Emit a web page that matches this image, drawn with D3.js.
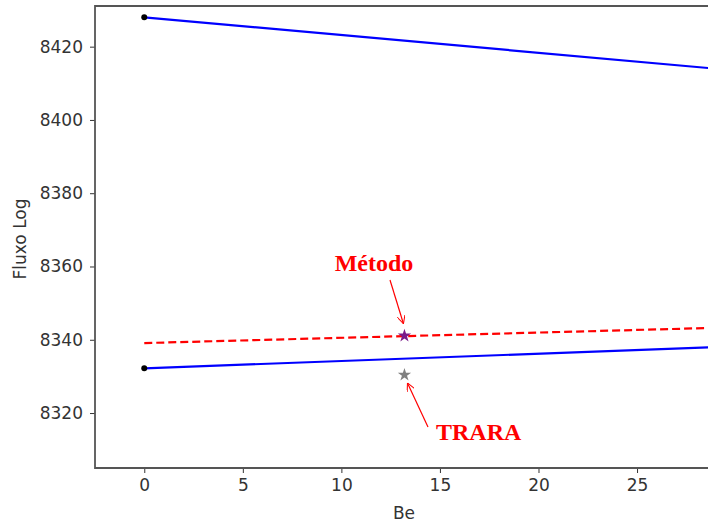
<!DOCTYPE html>
<html><head><meta charset="utf-8">
<script src="https://cdn.jsdelivr.net/npm/d3@7"></script>
<style>body{margin:0;background:#fff}svg{display:block}</style>
</head><body><svg id="c" width="708" height="522"></svg>
<script>
const xTicks = [0, 5, 10, 15, 20, 25];
const yTicks = [8320, 8340, 8360, 8380, 8400, 8420];
const beValues = [0, 30];
const upperLine = [8428.0, 8413.5];
const lowerLine = [8332.2, 8338.2];
const redDashed = [8339.1, 8343.4];
const metodoPoint = [13.2, 8341.1];
const traraPoint = [13.2, 8330.4];

const svg = d3.select("#c");
const L = 95, T = 6, R = 708, B = 468;
const x = d3.scaleLinear().domain([-2.5, 28.6]).range([L, R]);
const y = d3.scaleLinear().domain([8305.0, 8431.1]).range([B, T]);

svg.append("defs").append("clipPath").attr("id","clip")
  .append("rect").attr("x",L).attr("y",T).attr("width",R-L).attr("height",B-T);

const g = svg.append("g").attr("clip-path","url(#clip)");
const line = d3.line().x(d=>x(d[0])).y(d=>y(d[1]));
const mk = arr => beValues.map((b,i)=>[b,arr[i]]);

g.append("path").attr("d",line(mk(upperLine))).attr("fill","none").attr("stroke","#0000ff").attr("stroke-width",2.2);
g.append("path").attr("d",line(mk(lowerLine))).attr("fill","none").attr("stroke","#0000ff").attr("stroke-width",2.2);
g.append("path").attr("d",line(mk(redDashed))).attr("fill","none").attr("stroke","#ff0000").attr("stroke-width",2.2).attr("stroke-dasharray","8,4");

[[beValues[0],upperLine[0]],[beValues[0],lowerLine[0]]].forEach(p=>{
  g.append("circle").attr("cx",x(p[0])).attr("cy",y(p[1])).attr("r",3).attr("fill","#000");
});

const star = d3.symbol().type(d3.symbolStar).size(55);
g.append("path").attr("d",star()).attr("transform",`translate(${x(metodoPoint[0])},${y(metodoPoint[1])})`).attr("fill","#7a1a8a");
g.append("path").attr("d",star()).attr("transform",`translate(${x(traraPoint[0])},${y(traraPoint[1])})`).attr("fill","#808080");

// axes
const ax = svg.append("g").attr("transform",`translate(0,${B})`)
  .call(d3.axisBottom(x).tickValues(xTicks).tickSize(5).tickPadding(6).tickFormat(d3.format("d")));
const ay = svg.append("g").attr("transform",`translate(${L},0)`)
  .call(d3.axisLeft(y).tickValues(yTicks).tickSize(5).tickPadding(7).tickFormat(d3.format("d")));
[ax,ay].forEach(a=>{
  a.select(".domain").remove();
  a.selectAll("line").attr("stroke","#333");
  a.selectAll("text").attr("font-family","DejaVu Sans").attr("font-size",17).attr("fill","#333");
});
// spines
svg.append("path").attr("d",`M${R},${T}H${L}V${B}H${R}`).attr("fill","none").attr("stroke","#555").attr("stroke-width",1.8);

svg.append("text").attr("x",404).attr("y",519).attr("text-anchor","middle")
  .attr("font-family","DejaVu Sans").attr("font-size",17).attr("fill","#333").text("Be");
svg.append("text").attr("transform","translate(26,239) rotate(-90)").attr("text-anchor","middle")
  .attr("font-family","DejaVu Sans").attr("font-size",17).attr("fill","#333").text("Fluxo Log");

// annotations
svg.append("defs").append("marker").attr("id","arr").attr("viewBox","0 0 10 10").attr("refX",10).attr("refY",5)
  .attr("markerWidth",8).attr("markerHeight",8).attr("markerUnits","userSpaceOnUse").attr("orient","auto")
  .append("path").attr("d","M0,0L10,5L0,10").attr("fill","none").attr("stroke","#ff0000").attr("stroke-width",1.3);

svg.append("line").attr("x1",390).attr("y1",280).attr("x2",x(metodoPoint[0])-1).attr("y2",y(metodoPoint[1])-12)
  .attr("stroke","#ff0000").attr("stroke-width",1.2).attr("marker-end","url(#arr)");
svg.append("line").attr("x1",428).attr("y1",427).attr("x2",x(traraPoint[0])+3).attr("y2",y(traraPoint[1])+8)
  .attr("stroke","#ff0000").attr("stroke-width",1.2).attr("marker-end","url(#arr)");

svg.append("text").attr("x",374).attr("y",271).attr("text-anchor","middle")
  .attr("font-family","Liberation Serif").attr("font-weight","bold").attr("font-size",24).attr("fill","#ff0000").text("Método");
svg.append("text").attr("x",436).attr("y",440)
  .attr("font-family","Liberation Serif").attr("font-weight","bold").attr("font-size",24).attr("fill","#ff0000").text("TRARA");
</script></body></html>
